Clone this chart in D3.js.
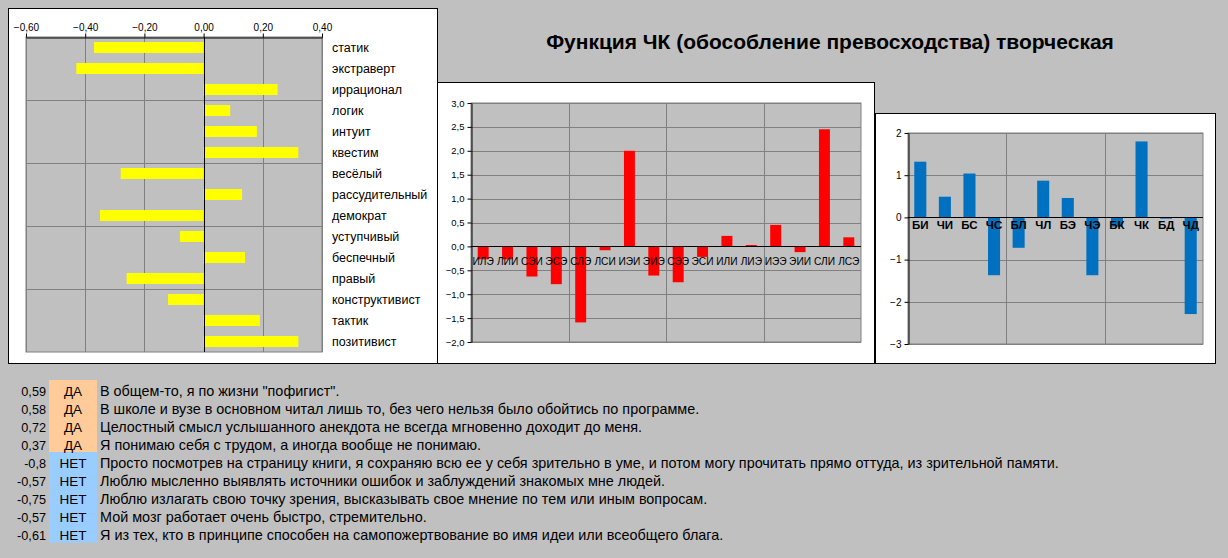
<!DOCTYPE html>
<html><head><meta charset="utf-8">
<script src="https://cdn.jsdelivr.net/npm/d3@7"></script>
<style>
html,body{margin:0;padding:0;background:#c0c0c0;}
svg{display:block;font-family:Arial,"Liberation Sans",sans-serif;}
</style></head>
<body>
<svg id="chart" width="1228" height="558"></svg>
<script>
// ---------- DATA ----------
const titleText = "Функция ЧК (обособление превосходства) творческая";

const leftCats = ["статик","экстраверт","иррационал","логик","интуит","квестим","весёлый","рассудительный","демократ","уступчивый","беспечный","правый","конструктивист","тактик","позитивист"];
const leftValues = [-0.37,-0.43,0.25,0.09,0.18,0.32,-0.28,0.13,-0.35,-0.08,0.14,-0.26,-0.12,0.19,0.32];
const leftTicks = [-0.6,-0.4,-0.2,0,0.2,0.4];

const midCats = ["ИЛЭ","ЛИИ","СЭИ","ЭСЭ","СЛЭ","ЛСИ","ИЭИ","ЭИЭ","СЭЭ","ЭСИ","ИЛИ","ЛИЭ","ИЭЭ","ЭИИ","СЛИ","ЛСЭ"];
const midValues = [-0.27,-0.27,-0.63,-0.79,-1.59,-0.08,2.0,-0.61,-0.75,-0.22,0.22,0.03,0.45,-0.12,2.45,0.19];
const midTicks = [-2,-1.5,-1,-0.5,0,0.5,1,1.5,2,2.5,3];

const rightCats = ["БИ","ЧИ","БС","ЧС","БЛ","ЧЛ","БЭ","ЧЭ","БК","ЧК","БД","ЧД"];
const rightValues = [1.32,0.49,1.04,-1.37,-0.72,0.87,0.46,-1.37,-0.22,1.80,-0.03,-2.29];
const rightTicks = [-3,-2,-1,0,1,2];

const tableValues = ["0,59","0,58","0,72","0,37","-0,8","-0,57","-0,75","-0,57","-0,61"];
const tableAnswers = ["ДА","ДА","ДА","ДА","НЕТ","НЕТ","НЕТ","НЕТ","НЕТ"];
const tableStatements = [
  "В общем-то, я по жизни \"пофигист\".",
  "В школе и вузе в основном читал лишь то, без чего нельзя было обойтись по программе.",
  "Целостный смысл услышанного анекдота не всегда мгновенно доходит до меня.",
  "Я понимаю себя с трудом, а иногда вообще не понимаю.",
  "Просто посмотрев на страницу книги, я сохраняю всю ее у себя зрительно в уме, и потом могу прочитать прямо оттуда, из зрительной памяти.",
  "Люблю мысленно выявлять источники ошибок и заблуждений знакомых мне людей.",
  "Люблю излагать свою точку зрения, высказывать свое мнение по тем или иным вопросам.",
  "Мой мозг работает очень быстро, стремительно.",
  "Я из тех, кто в принципе способен на самопожертвование во имя идеи или всеобщего блага."
];

// ---------- STYLE ----------
const PLOT_BG = "#c0c0c0", GRID = "#808080";
const svg = d3.select("#chart");
const comma = (s) => s.replace(".", ",");

// ---------- TITLE ----------
svg.append("text").attr("x", 830).attr("y", 49).attr("text-anchor", "middle")
  .attr("font-size", 21).attr("font-weight", "bold").attr("fill", "#000").text(titleText);

// ---------- LEFT CHART ----------
(function(){
  const g = svg.append("g");
  g.append("rect").attr("x", 8.5).attr("y", 8.5).attr("width", 429).attr("height", 355)
    .attr("fill", "#fff").attr("stroke", "#000");
  const x = d3.scaleLinear().domain([-0.6, 0.4]).range([26, 322]);
  const yb = d3.scaleBand().domain(leftCats).range([37, 352]);
  const y = d3.scaleBand().domain(leftCats).range([37, 352]).paddingInner(0.476).paddingOuter(0.238);
  g.append("rect").attr("x", 26).attr("y", 37).attr("width", 296).attr("height", 315)
    .attr("fill", PLOT_BG).attr("stroke", GRID);
  g.selectAll(".vg").data(leftTicks).join("line")
    .attr("x1", d => Math.round(x(d)) + 0.5).attr("x2", d => Math.round(x(d)) + 0.5)
    .attr("y1", 37).attr("y2", 352).attr("stroke", GRID);
  g.selectAll(".hg").data([3, 6, 9, 12]).join("line")
    .attr("x1", 26).attr("x2", 322)
    .attr("y1", i => Math.round(yb(leftCats[i])) + 0.5).attr("y2", i => Math.round(yb(leftCats[i])) + 0.5)
    .attr("stroke", GRID);
  g.selectAll(".bar").data(leftValues).join("rect")
    .attr("x", d => x(Math.min(0, d))).attr("width", d => Math.abs(x(d) - x(0)))
    .attr("y", (d, i) => y(leftCats[i])).attr("height", y.bandwidth())
    .attr("fill", "#ffff00");
  g.append("line").attr("x1", Math.round(x(0)) + 0.5).attr("x2", Math.round(x(0)) + 0.5)
    .attr("y1", 37).attr("y2", 352).attr("stroke", "#000");
  const ax = g.append("g").attr("transform", "translate(0,37.5)")
    .call(d3.axisTop(x).tickValues(leftTicks).tickSize(4).tickSizeOuter(0)
      .tickFormat(d => comma(d3.format(".2f")(d))));
  ax.select(".domain").attr("stroke", "#000");
  ax.selectAll("text").attr("font-size", 10).attr("font-family", "Arial,'Liberation Sans',sans-serif").attr("fill", "#000");
  g.selectAll(".lbl").data(leftCats).join("text")
    .attr("x", 332).attr("y", d => y(d) + y.bandwidth() / 2).attr("dy", "0.36em")
    .attr("font-size", 12.5).attr("fill", "#000").text(d => d);
})();

// ---------- MIDDLE CHART ----------
(function(){
  const g = svg.append("g");
  g.append("rect").attr("x", 437.5).attr("y", 82.5).attr("width", 437).attr("height", 281)
    .attr("fill", "#fff").attr("stroke", "#000");
  const xb = d3.scaleBand().domain(midCats).range([471, 861]);
  const x = d3.scaleBand().domain(midCats).range([471, 861]).paddingInner(0.55).paddingOuter(0.275);
  const y = d3.scaleLinear().domain([-2, 3]).range([342, 103]);
  g.append("rect").attr("x", 471).attr("y", 103).attr("width", 390).attr("height", 239)
    .attr("fill", PLOT_BG).attr("stroke", GRID);
  g.selectAll(".hg").data(midTicks).join("line")
    .attr("x1", 471).attr("x2", 861)
    .attr("y1", d => Math.round(y(d)) + 0.5).attr("y2", d => Math.round(y(d)) + 0.5).attr("stroke", GRID);
  g.selectAll(".vg").data([4, 8, 12]).join("line")
    .attr("x1", i => Math.round(xb(midCats[i])) + 0.5).attr("x2", i => Math.round(xb(midCats[i])) + 0.5)
    .attr("y1", 103).attr("y2", 342).attr("stroke", GRID);
  g.selectAll(".bar").data(midValues).join("rect")
    .attr("x", (d, i) => x(midCats[i])).attr("width", x.bandwidth())
    .attr("y", d => y(Math.max(0, d))).attr("height", d => Math.abs(y(d) - y(0)))
    .attr("fill", "#ff0000");
  g.append("line").attr("x1", 471).attr("x2", 861)
    .attr("y1", Math.round(y(0)) + 0.5).attr("y2", Math.round(y(0)) + 0.5).attr("stroke", "#000");
  const ax = g.append("g").attr("transform", "translate(471.5,0)")
    .call(d3.axisLeft(y).tickValues(midTicks).tickSize(4).tickSizeOuter(0)
      .tickFormat(d => comma(d3.format(".1f")(d))));
  ax.select(".domain").attr("stroke", "#000");
  ax.selectAll("text").attr("font-size", 9.5).attr("font-family", "Arial,'Liberation Sans',sans-serif").attr("fill", "#000");
  g.selectAll(".lbl").data(midCats).join("text")
    .attr("x", d => xb(d) + xb.bandwidth() / 2).attr("y", y(0) + 19)
    .attr("text-anchor", "middle").attr("font-size", 10.2).attr("fill", "#000").text(d => d);
})();

// ---------- RIGHT CHART ----------
(function(){
  const g = svg.append("g");
  g.append("rect").attr("x", 875.5).attr("y", 113.5).attr("width", 340).attr("height", 250)
    .attr("fill", "#fff").attr("stroke", "#000");
  const xb = d3.scaleBand().domain(rightCats).range([908, 1203]);
  const x = d3.scaleBand().domain(rightCats).range([908, 1203]).paddingInner(0.51).paddingOuter(0.255);
  const y = d3.scaleLinear().domain([-3, 2]).range([344, 133]);
  g.append("rect").attr("x", 908).attr("y", 133).attr("width", 295).attr("height", 211)
    .attr("fill", PLOT_BG).attr("stroke", GRID);
  g.selectAll(".hg").data(rightTicks).join("line")
    .attr("x1", 908).attr("x2", 1203)
    .attr("y1", d => Math.round(y(d)) + 0.5).attr("y2", d => Math.round(y(d)) + 0.5).attr("stroke", GRID);
  g.selectAll(".vg").data([4, 8]).join("line")
    .attr("x1", i => Math.round(xb(rightCats[i])) + 0.5).attr("x2", i => Math.round(xb(rightCats[i])) + 0.5)
    .attr("y1", 133).attr("y2", 344).attr("stroke", GRID);
  g.selectAll(".bar").data(rightValues).join("rect")
    .attr("x", (d, i) => x(rightCats[i])).attr("width", x.bandwidth())
    .attr("y", d => y(Math.max(0, d))).attr("height", d => Math.abs(y(d) - y(0)))
    .attr("fill", "#0070c0");
  g.append("line").attr("x1", 908).attr("x2", 1203)
    .attr("y1", Math.round(y(0)) + 0.5).attr("y2", Math.round(y(0)) + 0.5).attr("stroke", "#000");
  const ax = g.append("g").attr("transform", "translate(908.5,0)")
    .call(d3.axisLeft(y).tickValues(rightTicks).tickSize(4).tickSizeOuter(0).tickFormat(d3.format("d")));
  ax.select(".domain").attr("stroke", "#000");
  ax.selectAll("text").attr("font-size", 10).attr("font-family", "Arial,'Liberation Sans',sans-serif").attr("fill", "#000");
  g.selectAll(".lbl").data(rightCats).join("text")
    .attr("x", d => xb(d) + xb.bandwidth() / 2).attr("y", y(0) + 12)
    .attr("text-anchor", "middle").attr("font-size", 11.5).attr("font-weight", "bold").attr("fill", "#000").text(d => d);
})();

// ---------- TABLE ----------
(function(){
  const g = svg.append("g");
  const rowY = d3.scaleBand().domain(d3.range(tableValues.length)).range([380, 542]);
  g.selectAll(".cell").data(tableAnswers).join("rect")
    .attr("x", 49).attr("width", 48).attr("y", (d, i) => rowY(i)).attr("height", rowY.bandwidth() + 0.5)
    .attr("fill", d => d === "ДА" ? "#ffcc99" : "#99ccff");
  g.selectAll(".val").data(tableValues).join("text")
    .attr("x", 46).attr("y", (d, i) => rowY(i) + 15.5)
    .attr("text-anchor", "end").attr("font-size", 12.7).attr("fill", "#000").text(d => d);
  g.selectAll(".ans").data(tableAnswers).join("text")
    .attr("x", 73).attr("y", (d, i) => rowY(i) + 16)
    .attr("text-anchor", "middle").attr("font-size", 13.5).attr("fill", "#000").text(d => d);
  g.selectAll(".st").data(tableStatements).join("text")
    .attr("x", 100).attr("y", (d, i) => rowY(i) + 16.3)
    .attr("font-size", 14.4).attr("fill", "#000").text(d => d);
})();
</script>
</body></html>
